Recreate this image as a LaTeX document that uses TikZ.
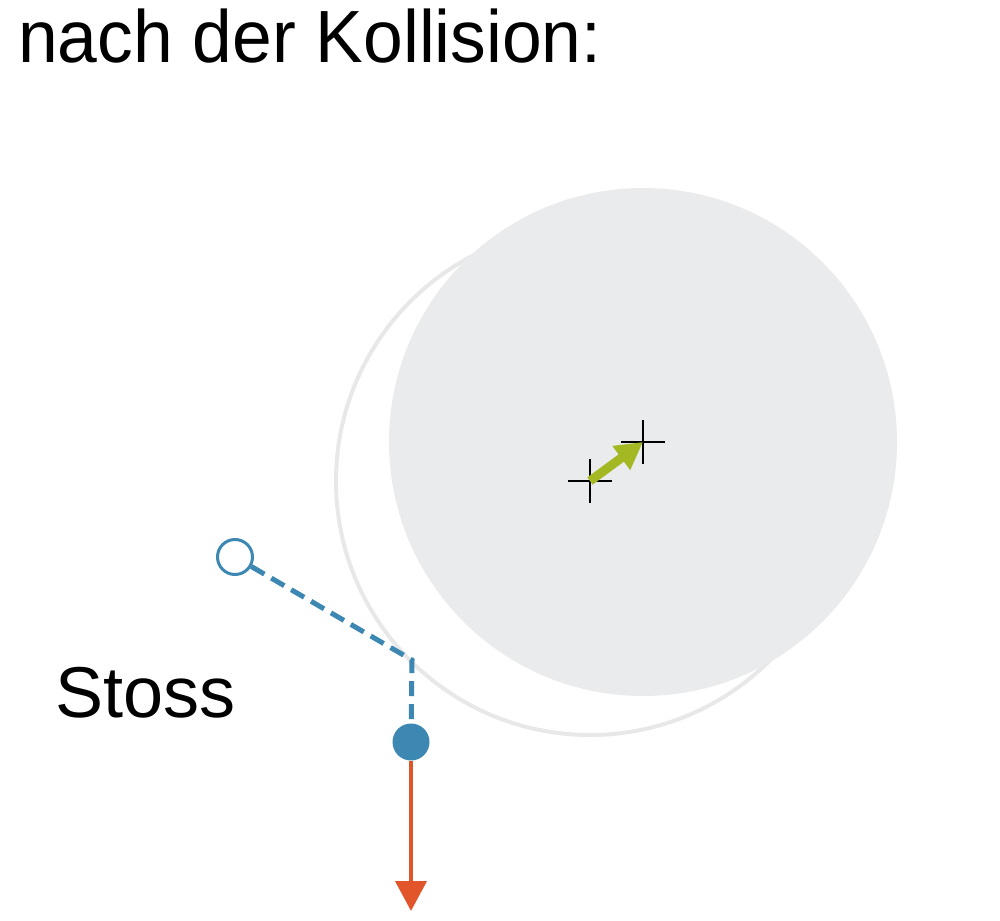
\documentclass[tikz,border=0pt]{standalone}
\usepackage{fontspec}
\setmainfont{Liberation Sans}
\usetikzlibrary{arrows.meta,calc}
\definecolor{diskgray}{HTML}{EAEBEC}
\definecolor{ringgray}{HTML}{E8E8E9}
\definecolor{pblue}{HTML}{3D87B3}
\definecolor{pred}{HTML}{E2552B}
\definecolor{pgreen}{HTML}{A3B822}
\tikzset{
  crossmark/.style={line width=2.6pt, black},
  pathdash/.style={line width=5pt, pblue, dash pattern=on 15pt off 8pt},
  lbl/.style={inner sep=0pt, anchor=base west, text=black},
}
\begin{document}
\begin{tikzpicture}[x=1pt,y=-1pt]
\useasboundingbox (0,0) rectangle (1000,920);
% ring (old position) and disk (new position)
\coordinate (c1) at (590,481);
\coordinate (c2) at (643,442);
\draw[ringgray, line width=4pt] (c1) circle[radius=254];
\fill[diskgray] (c2) circle[radius=254];
% crosses
\draw[crossmark] ($(c1)+(-22,0)$) -- ($(c1)+(22,0)$);
\draw[crossmark] ($(c1)+(0,-22)$) -- ($(c1)+(0,22)$);
\draw[crossmark] ($(c2)+(-22,0)$) -- ($(c2)+(22,0)$);
\draw[crossmark] ($(c2)+(0,-22)$) -- ($(c2)+(0,22)$);
% green displacement arrow
\draw[pgreen, line width=9pt, -{Triangle[length=27pt,width=28pt]}] (c1) -- (c2);
% particle path
\node[circle, draw=pblue, fill=white, line width=3pt, minimum size=35pt, inner sep=0pt] (p0) at (235,557) {};
\coordinate (kink) at (412,660);
\node[circle, fill=pblue, minimum size=37pt, inner sep=0pt] (p1) at (411,742) {};
\draw[pathdash] (p0) -- (kink) -- (p1);
% velocity
\coordinate (vend) at (411,911);
\draw[pred, line width=4pt, -{Triangle[length=30pt,width=31pt]}] (p1.south) -- (vend);
% labels
\node[lbl, font=\fontsize{74}{80}\selectfont, xscale=0.965, transform shape] (title) at (18,63) {nach der Kollision:};
\node[lbl, font=\fontsize{72}{78}\selectfont] (stoss) at (55,717) {Stoss};
\end{tikzpicture}
\end{document}
